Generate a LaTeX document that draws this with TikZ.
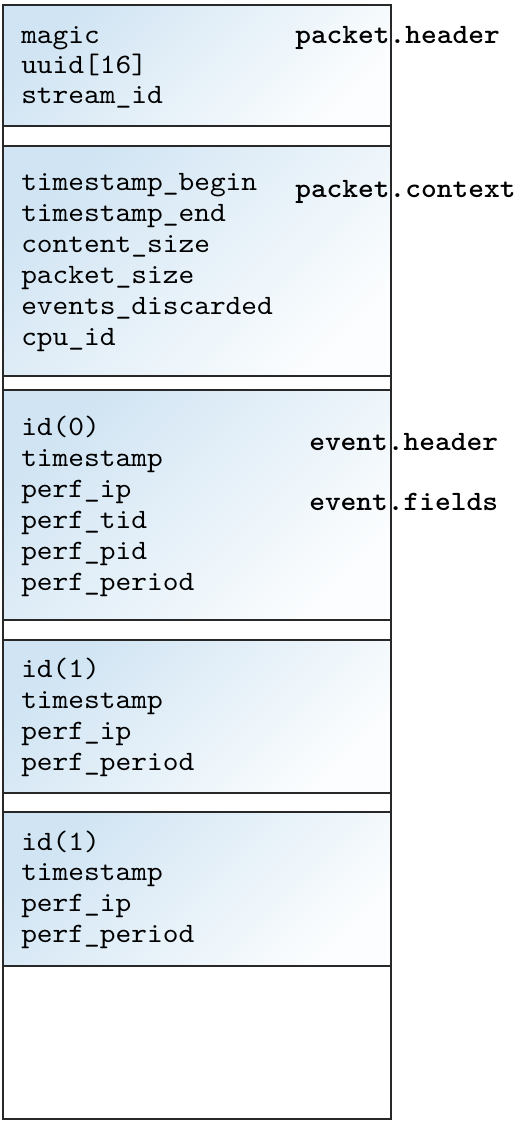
\documentclass[tikz,border=0pt]{standalone}
\usepackage{fontspec}
\newfontfamily\codefont{lmmono10-regular.otf}[FakeStretch=1.07, BoldFont=lmmonolt10-bold.otf]
\definecolor{cellblue}{RGB}{208,228,243}
\definecolor{cellwhite}{RGB}{251,253,254}
\definecolor{rule}{RGB}{40,40,40}
\begin{document}
\begin{tikzpicture}[x=0.75pt,y=-0.75pt,
  cell/.style={draw=rule,line width=0.9pt,top color=cellblue,bottom color=cellwhite,shading angle=45},
  frame/.style={draw=rule,line width=0.9pt},
  field/.style={anchor=base west,inner sep=0pt,font=\codefont\fontsize{21}{25}\selectfont},
  tag/.style={anchor=base west,inner sep=0pt,font=\codefont\bfseries\fontsize{21}{25}\selectfont}]
\useasboundingbox (0,0) rectangle (530,1123);
\fill[white] (0,0) rectangle (530,1123);

% outer frame of the stream
\draw[frame] (3,5) rectangle (391,1119);

% shaded records
\shade[cell] (3,5) rectangle (391,126);
\shade[cell] (3,146) rectangle (391,376);
\shade[cell] (3,390) rectangle (391,620);
\shade[cell] (3,640) rectangle (391,793);
\shade[cell] (3,812) rectangle (391,966);
\draw[frame] (3,5) rectangle (391,1119);

% record fields
\foreach \t [count=\i from 0] in {{magic},{uuid[16]},{stream\_id}}
  \node[field,name=hdr-\i] at (21,43.3+30*\i) {\t};
\foreach \t [count=\i from 0] in {{timestamp\_begin},{timestamp\_end},{content\_size},{packet\_size},{events\_discarded},{cpu\_id}}
  \node[field,name=ctx-\i] at (21,190.7+30.9*\i) {\t};
\foreach \t [count=\i from 0] in {{id(0)},{timestamp},{perf\_ip},{perf\_tid},{perf\_pid},{perf\_period}}
  \node[field,name=evA-\i] at (21,435.7+30.9*\i) {\t};
\foreach \t [count=\i from 0] in {{id(1)},{timestamp},{perf\_ip},{perf\_period}}
  \node[field,name=evB-\i] at (21,677.3+31.1*\i) {\t};
\foreach \t [count=\i from 0] in {{id(1)},{timestamp},{perf\_ip},{perf\_period}}
  \node[field,name=evC-\i] at (21,850+30.9*\i) {\t};

% section tags
\node[tag] (tagheader) at (295,43.3) {packet.header};
\node[tag] (tagcontext) at (295,197.7) {packet.context};
\node[tag] (tagevhdr) at (309,450) {event.header};
\node[tag] (tagevfld) at (309,510.7) {event.fields};
\end{tikzpicture}
\end{document}
